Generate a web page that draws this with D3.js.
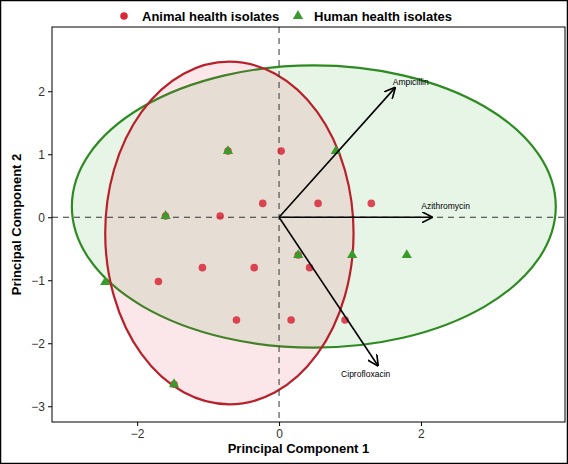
<!DOCTYPE html>
<html><head><meta charset="utf-8">
<script src="https://cdn.jsdelivr.net/npm/d3@7"></script>
<style>body{margin:0;background:#fff;font-family:"Liberation Sans",Arial,sans-serif}</style>
</head><body><div id="chart"></div>
<script>
// PCA scores
const animalX = [0.03, -0.83, -0.23, 0.55, 1.3, -1.08, -1.7, -0.35, 0.43, -0.6, 0.17, 0.93, -0.72, -1.6, 0.27, -1.48];
const animalY = [1.05, 0.02, 0.22, 0.22, 0.22, -0.8, -1.02, -0.8, -0.8, -1.63, -1.63, -1.63, 1.05, 0.02, -0.6, -2.65];
const humanX = [-0.72, 0.8, -1.6, 0.27, 1.03, 1.8, -2.45, -1.48];
const humanY = [1.05, 1.05, 0.02, -0.6, -0.6, -0.6, -1.03, -2.65];
const loadNames = ["Ampicillin", "Azithromycin", "Ciprofloxacin"];
const loadX = [1.63, 2.15, 1.39];
const loadY = [2.05, 0.0, -2.35];
// ellipses: cx, cy, rx, ry
const ellAnimal = [-0.7, -0.25, 1.75, 2.72];
const ellHuman = [0.49, 0.17, 3.41, 2.24];
const xTicks = [-2, 0, 2];
const yTicks = [-3, -2, -1, 0, 1, 2];

const W = 568, H = 464;
const svg = d3.select("#chart").append("svg").attr("width", W).attr("height", H);
svg.append("rect").attr("x", 0.5).attr("y", 0.5).attr("width", W - 1).attr("height", H - 1)
  .attr("fill", "none").attr("stroke", "#000").attr("stroke-width", 1.5);

const L = 52, R = 565, T = 27, B = 422;
const x = d3.scaleLinear().domain([-3.2, 4.03]).range([L, R]);
const y = d3.scaleLinear().domain([-3.25, 3.02]).range([B, T]);

const g = svg.append("g");
g.append("defs").append("marker").attr("id", "arr").attr("viewBox", "0 0 10 10")
  .attr("refX", 9).attr("refY", 5).attr("markerWidth", 7).attr("markerHeight", 7).attr("orient", "auto")
  .append("path").attr("d", "M0,0L10,5L0,10").attr("fill", "none").attr("stroke", "#000").attr("stroke-width", 1.5);

function ell(e, fill, stroke) {
  g.append("ellipse").attr("cx", x(e[0])).attr("cy", y(e[1]))
    .attr("rx", x(e[2]) - x(0)).attr("ry", y(0) - y(e[3]))
    .attr("fill", fill).attr("stroke", stroke).attr("stroke-width", 2.2);
}
ell(ellHuman, "rgba(60,170,60,0.12)", "#2e8b22");
ell(ellAnimal, "rgba(220,60,80,0.12)", "#b8202a");

g.append("line").attr("x1", L).attr("x2", R).attr("y1", y(0)).attr("y2", y(0))
  .attr("stroke", "#333").attr("stroke-dasharray", "6,5");
g.append("line").attr("x1", x(0)).attr("x2", x(0)).attr("y1", T).attr("y2", B)
  .attr("stroke", "#333").attr("stroke-dasharray", "6,5");

g.selectAll("circle.a").data(animalX).join("circle")
  .attr("cx", d => x(d)).attr("cy", (d, i) => y(animalY[i])).attr("r", 3.8)
  .attr("fill", "#d8283a").attr("opacity", 0.85);
g.selectAll("path.h").data(humanX).join("path")
  .attr("transform", (d, i) => `translate(${x(d)},${y(humanY[i])})`)
  .attr("d", d3.symbol(d3.symbolTriangle, 45)).attr("fill", "#3a9a2a");

loadNames.forEach((n, i) => {
  g.append("line").attr("x1", x(0)).attr("y1", y(0)).attr("x2", x(loadX[i])).attr("y2", y(loadY[i]))
    .attr("stroke", "#000").attr("stroke-width", 1.6).attr("marker-end", "url(#arr)");
});
const lblOff = [[16, -3], [14, -8], [-12, 12]];
loadNames.forEach((n, i) => {
  g.append("text").attr("x", x(loadX[i]) + lblOff[i][0]).attr("y", y(loadY[i]) + lblOff[i][1])
    .attr("text-anchor", "middle").attr("font-size", 8.5).text(n);
});

svg.append("rect").attr("x", L).attr("y", T).attr("width", R - L).attr("height", B - T)
  .attr("fill", "none").attr("stroke", "#000").attr("stroke-width", 1);
const xa = svg.append("g").attr("transform", `translate(0,${B})`)
  .call(d3.axisBottom(x).tickValues(xTicks).tickFormat(d3.format("d")).tickSize(4).tickSizeOuter(0));
const ya = svg.append("g").attr("transform", `translate(${L},0)`)
  .call(d3.axisLeft(y).tickValues(yTicks).tickFormat(d3.format("d")).tickSize(4).tickSizeOuter(0));
[xa, ya].forEach(a => { a.select(".domain").remove(); a.selectAll("text").attr("font-size", 12).attr("fill", "#333").attr("font-family", "Liberation Sans, Arial"); });

svg.append("text").attr("x", (L + R) / 2 - 10).attr("y", 453).attr("text-anchor", "middle")
  .attr("font-weight", "bold").attr("font-size", 13).text("Principal Component 1");
svg.append("text").attr("transform", `translate(21,${(T + B) / 2}) rotate(-90)`).attr("text-anchor", "middle")
  .attr("font-weight", "bold").attr("font-size", 13).text("Principal Component 2");

svg.append("circle").attr("cx", 124).attr("cy", 16).attr("r", 3.8).attr("fill", "#d8283a");
svg.append("text").attr("x", 142).attr("y", 21).attr("font-weight", "bold").attr("font-size", 13).text("Animal health isolates");
svg.append("path").attr("transform", "translate(298,16)").attr("d", d3.symbol(d3.symbolTriangle, 45)).attr("fill", "#3a9a2a");
svg.append("text").attr("x", 314).attr("y", 21).attr("font-weight", "bold").attr("font-size", 13).text("Human health isolates");
</script></body></html>
